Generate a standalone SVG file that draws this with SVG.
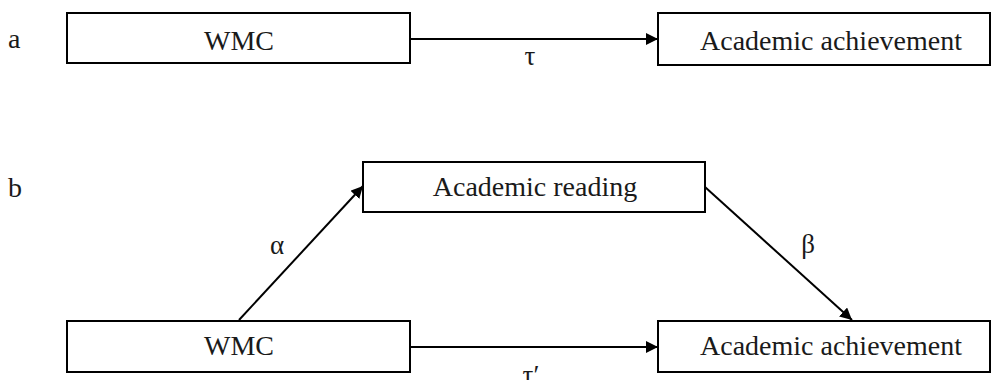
<svg xmlns="http://www.w3.org/2000/svg" width="992" height="380" viewBox="0 0 992 380">
  <style>
    .box { fill: #fff; stroke: #000; stroke-width: 2; }
    .lbl { font-family: "Liberation Serif", "Times New Roman", serif; font-size: 28px; fill: #1a1a1a; text-anchor: middle; }
    .tag { font-family: "Liberation Serif", "Times New Roman", serif; font-size: 28px; fill: #1a1a1a; }
    .coef { font-family: "Liberation Serif", "Times New Roman", serif; font-size: 27px; fill: #1a1a1a; text-anchor: middle; }
    .edge { stroke: #000; stroke-width: 2; fill: none; marker-end: url(#arrow); }
  </style>
  <defs>
    <marker id="arrow" viewBox="0 0 12 12" refX="12" refY="6" markerWidth="12" markerHeight="12" markerUnits="userSpaceOnUse" orient="auto">
      <path d="M0,0 L12,6 L0,12 Z" fill="#000"/>
    </marker>
  </defs>

  <rect width="992" height="380" fill="#fff"/>

  <!-- panel tags -->
  <text class="tag" x="8" y="48">a</text>
  <text class="tag" x="8" y="197">b</text>

  <!-- connectors -->
  <g id="connectors">
    <line class="edge" x1="411" y1="39" x2="658" y2="39"/>
    <line class="edge" x1="239" y1="320" x2="363" y2="186"/>
    <line class="edge" x1="705" y1="187" x2="852" y2="320"/>
    <line class="edge" x1="411" y1="347" x2="658" y2="347"/>
    <text class="coef" x="530" y="65">τ</text>
    <text class="coef" x="277" y="254">α</text>
    <text class="coef" x="808" y="253">β</text>
    <text class="coef" x="531" y="384">τ′</text>
  </g>

  <!-- panel a -->
  <g id="a-wmc">
    <rect class="box" x="67" y="13" width="343" height="50"/>
    <text class="lbl" x="239" y="50">WMC</text>
  </g>
  <g id="a-achievement">
    <rect class="box" x="658" y="13" width="332" height="52"/>
    <text class="lbl" x="831" y="50">Academic achievement</text>
  </g>

  <!-- panel b -->
  <g id="b-reading">
    <rect class="box" x="363" y="162" width="342" height="50"/>
    <text class="lbl" x="535" y="196">Academic reading</text>
  </g>
  <g id="b-wmc">
    <rect class="box" x="67" y="321" width="343" height="51"/>
    <text class="lbl" x="239" y="355">WMC</text>
  </g>
  <g id="b-achievement">
    <rect class="box" x="658" y="321" width="332" height="51"/>
    <text class="lbl" x="831" y="355">Academic achievement</text>
  </g>
</svg>
